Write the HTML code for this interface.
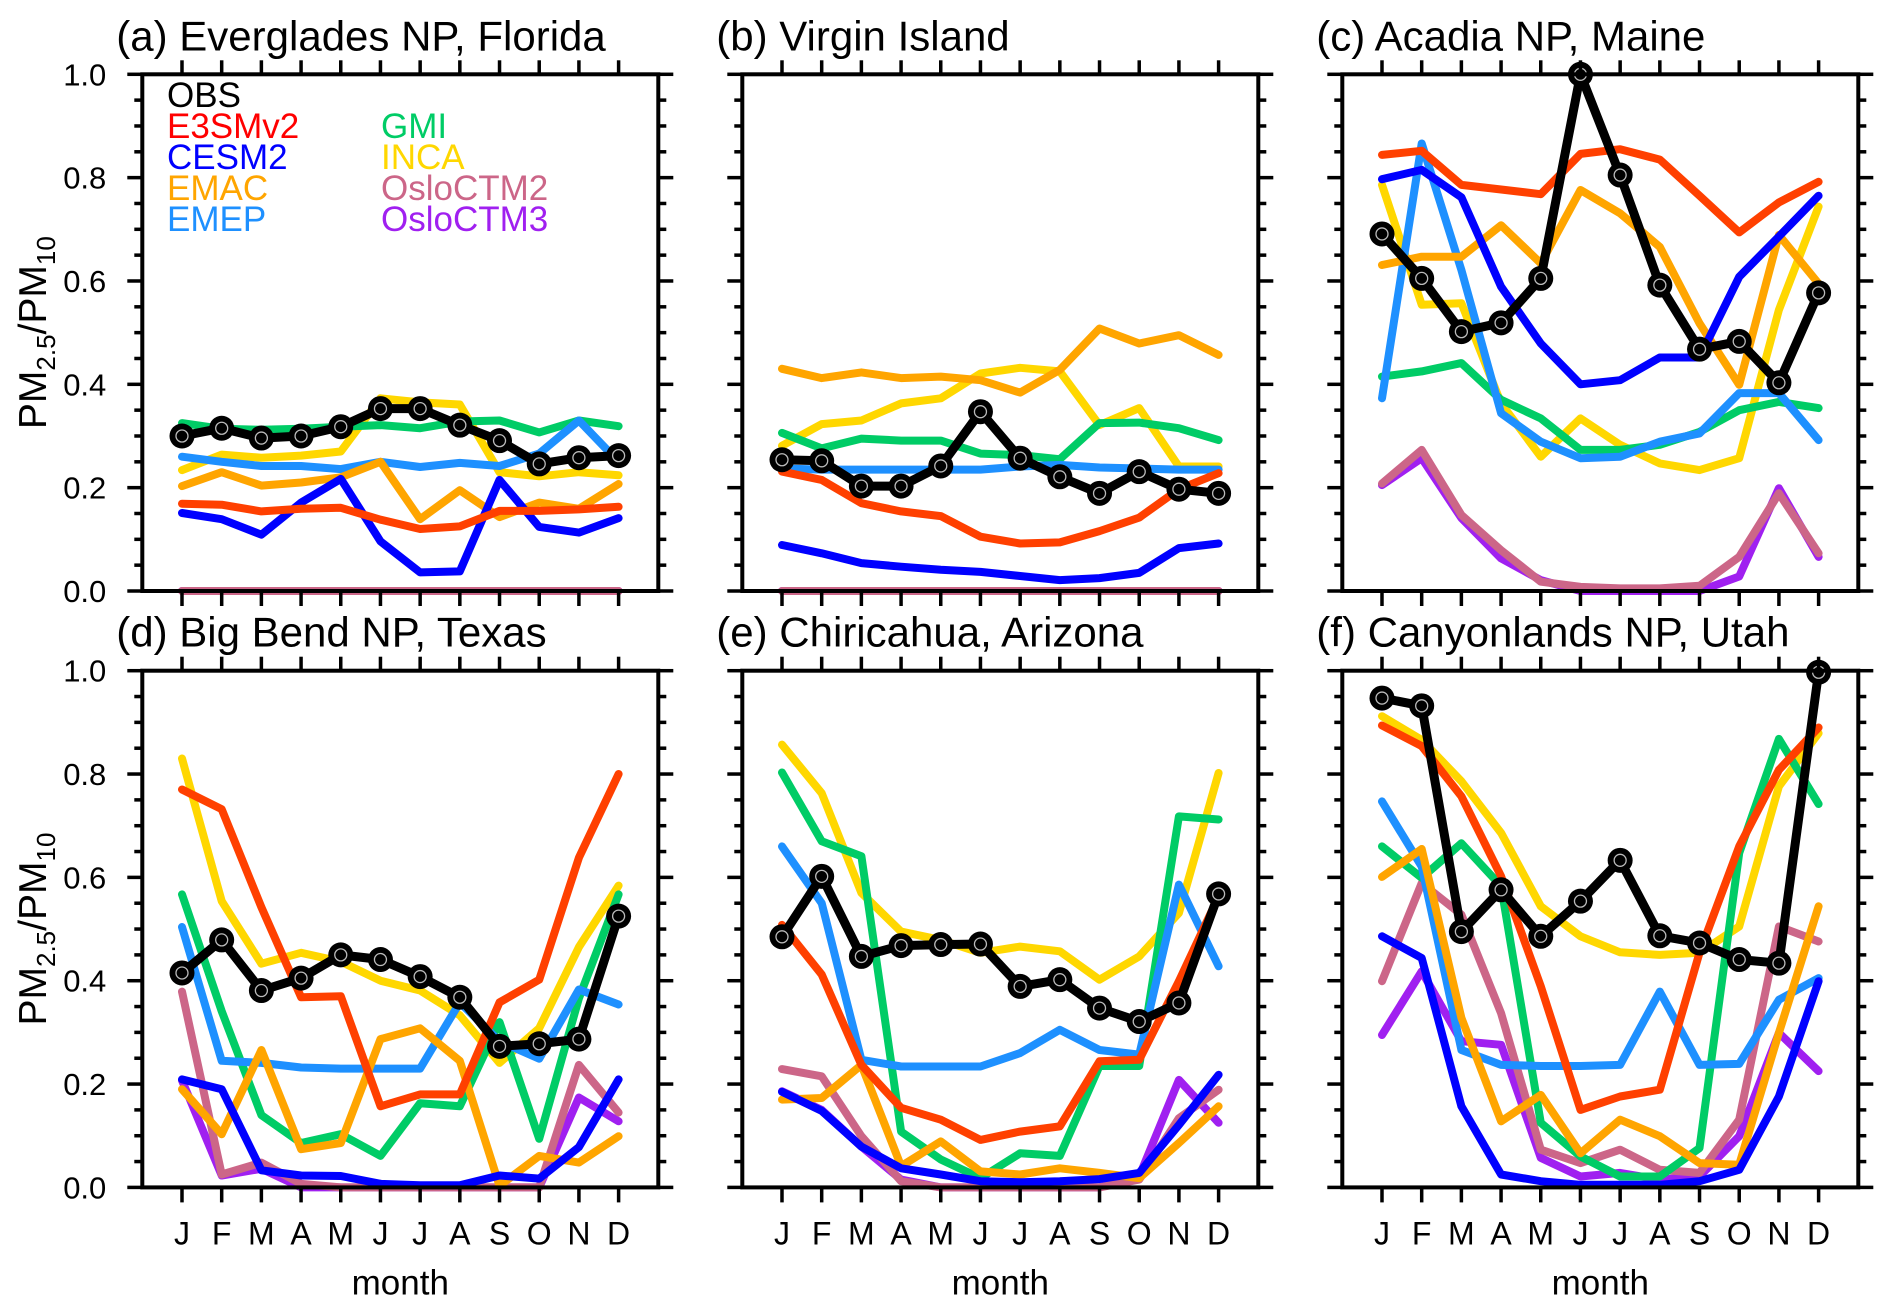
<!DOCTYPE html>
<html><head><meta charset="utf-8"><style>
html,body{margin:0;padding:0;background:#fff}
svg{display:block}
text{font-family:"Liberation Sans",sans-serif}
</style></head>
<body>
<svg id="fig" width="1892" height="1316" viewBox="0 0 1892 1316" xmlns="http://www.w3.org/2000/svg"></svg>
<script>
const months = ["J","F","M","A","M","J","J","A","S","O","N","D"];
const yTicks = [0.0,0.2,0.4,0.6,0.8,1.0];
const yTickLabels = ["0.0","0.2","0.4","0.6","0.8","1.0"];
const panelTitles = ["(a) Everglades NP, Florida","(b) Virgin Island","(c) Acadia NP, Maine","(d) Big Bend NP, Texas","(e) Chiricahua, Arizona","(f) Canyonlands NP, Utah"];
const models = ["OsloCTM3","OsloCTM2","INCA","GMI","EMEP","EMAC","CESM2","E3SMv2","OBS"];
const lineColors = {OBS:"#000000",E3SMv2:"#FF4000",CESM2:"#0000FF",EMAC:"#FFA500",EMEP:"#1E90FF",GMI:"#00CC66",INCA:"#FFD700",OsloCTM2:"#CC6688",OsloCTM3:"#A020F0"};

const aOBS=[.30,.315,.296,.30,.318,.353,.353,.321,.291,.246,.258,.262];
const aE3SM=[.169,.167,.154,.159,.161,.138,.12,.125,.155,.155,.158,.163];
const aCESM=[.151,.139,.109,.171,.217,.096,.036,.038,.215,.124,.113,.141];
const aEMAC=[.203,.23,.204,.21,.22,.25,.139,.195,.143,.171,.159,.207];
const aEMEP=[.26,.25,.242,.242,.236,.25,.24,.248,.242,.266,.33,.25];
const aGMI=[.325,.314,.312,.314,.318,.321,.315,.328,.33,.307,.33,.319];
const aINCA=[.234,.264,.258,.262,.27,.373,.365,.361,.23,.222,.23,.224];
const aOslo2=[0,0,0,0,0,0,0,0,0,0,0,0];
const aOslo3=[0,0,0,0,0,0,0,0,0,0,0,0];
const bOBS=[.254,.252,.203,.203,.242,.347,.257,.221,.189,.231,.197,.189];
const bE3SM=[.231,.215,.17,.154,.145,.105,.092,.094,.116,.142,.197,.228];
const bCESM=[.089,.073,.054,.047,.041,.037,.029,.021,.025,.035,.083,.092];
const bEMAC=[.43,.412,.423,.412,.415,.408,.384,.428,.508,.479,.495,.457];
const bEMEP=[.237,.235,.235,.235,.235,.235,.241,.244,.239,.237,.235,.235];
const bGMI=[.306,.276,.295,.291,.291,.266,.263,.255,.325,.326,.315,.292];
const bINCA=[.281,.323,.33,.363,.373,.421,.432,.425,.321,.354,.241,.241];
const bOslo2=[0,0,0,0,0,0,0,0,0,0,0,0];
const bOslo3=[0,0,0,0,0,0,0,0,0,0,0,0];
const cOBS=[.691,.605,.502,.519,.605,1.0,.805,.592,.468,.483,.403,.577];
const cE3SM=[.844,.852,.786,.777,.768,.846,.855,.835,.765,.694,.752,.792];
const cCESM=[.797,.815,.762,.589,.479,.40,.408,.452,.452,.608,.686,.765];
const cEMAC=[.631,.647,.647,.708,.634,.776,.731,.666,.518,.399,.689,.595];
const cEMEP=[.373,.866,.621,.344,.289,.257,.26,.289,.305,.383,.383,.292];
const cGMI=[.415,.425,.441,.37,.334,.273,.273,.283,.308,.35,.366,.354];
const cINCA=[.786,.554,.557,.363,.26,.334,.283,.247,.234,.257,.544,.744];
const cOslo2=[.208,.273,.147,.079,.018,.008,.005,.005,.01,.066,.189,.073];
const cOslo3=[.205,.257,.141,.063,.021,0,0,0,0,.028,.199,.066];
const dOBS=[.415,.479,.381,.405,.45,.441,.408,.368,.273,.278,.287,.525];
const dE3SM=[.77,.732,.542,.368,.37,.157,.18,.18,.358,.402,.638,.80];
const dCESM=[.209,.19,.033,.023,.022,.007,.004,.004,.023,.017,.078,.209];
const dEMAC=[.19,.103,.266,.074,.086,.287,.308,.245,.003,.061,.048,.099];
const dEMEP=[.504,.245,.241,.232,.23,.23,.23,.358,.283,.249,.383,.354];
const dGMI=[.567,.341,.14,.086,.103,.061,.163,.157,.32,.094,.366,.567];
const dINCA=[.83,.554,.433,.454,.437,.40,.381,.333,.241,.308,.465,.584];
const dOslo2=[.379,.025,.048,.007,0,0,0,0,0,0,.237,.145];
const dOslo3=[.207,.023,.036,0,0,0,0,0,0,0,.174,.128];
const eOBS=[.485,.602,.447,.468,.47,.471,.389,.402,.347,.321,.357,.568];
const eE3SM=[.508,.412,.237,.154,.131,.092,.108,.118,.244,.247,.399,.563];
const eCESM=[.185,.148,.079,.037,.025,.012,.01,.012,.016,.028,.121,.218];
const eEMAC=[.17,.173,.237,.041,.089,.031,.025,.037,.028,.018,.086,.157];
const eEMEP=[.66,.55,.247,.234,.234,.234,.26,.305,.266,.257,.586,.428];
const eGMI=[.803,.67,.641,.108,.054,.018,.066,.061,.235,.235,.718,.712];
const eINCA=[.857,.763,.57,.495,.479,.454,.466,.457,.402,.447,.531,.802];
const eOslo2=[.229,.215,.099,.012,0,0,0,0,0,.015,.134,.189];
const eOslo3=[.186,.15,.079,.015,0,0,0,0,0,.021,.208,.125];
const fOBS=[.947,.932,.495,.576,.486,.554,.633,.487,.473,.441,.434,.997];
const fE3SM=[.894,.854,.757,.602,.389,.15,.176,.189,.454,.66,.808,.89];
const fCESM=[.486,.444,.157,.025,.012,.005,.005,.005,.012,.034,.176,.399];
const fEMAC=[.601,.655,.328,.128,.179,.066,.131,.099,.047,.044,.299,.544];
const fEMEP=[.747,.621,.266,.237,.235,.235,.237,.379,.237,.239,.363,.405];
const fGMI=[.66,.599,.666,.583,.125,.06,.021,.021,.076,.647,.868,.742];
const fINCA=[.912,.866,.786,.686,.544,.486,.455,.45,.454,.505,.776,.879];
const fOslo2=[.399,.589,.528,.337,.073,.047,.073,.034,.028,.131,.505,.476];
const fOslo3=[.295,.418,.283,.276,.057,.021,.028,.015,.021,.099,.299,.225];

const panelData=[
 {OBS:aOBS,E3SMv2:aE3SM,CESM2:aCESM,EMAC:aEMAC,EMEP:aEMEP,GMI:aGMI,INCA:aINCA,OsloCTM2:aOslo2,OsloCTM3:aOslo3},
 {OBS:bOBS,E3SMv2:bE3SM,CESM2:bCESM,EMAC:bEMAC,EMEP:bEMEP,GMI:bGMI,INCA:bINCA,OsloCTM2:bOslo2,OsloCTM3:bOslo3},
 {OBS:cOBS,E3SMv2:cE3SM,CESM2:cCESM,EMAC:cEMAC,EMEP:cEMEP,GMI:cGMI,INCA:cINCA,OsloCTM2:cOslo2,OsloCTM3:cOslo3},
 {OBS:dOBS,E3SMv2:dE3SM,CESM2:dCESM,EMAC:dEMAC,EMEP:dEMEP,GMI:dGMI,INCA:dINCA,OsloCTM2:dOslo2,OsloCTM3:dOslo3},
 {OBS:eOBS,E3SMv2:eE3SM,CESM2:eCESM,EMAC:eEMAC,EMEP:eEMEP,GMI:eGMI,INCA:eINCA,OsloCTM2:eOslo2,OsloCTM3:eOslo3},
 {OBS:fOBS,E3SMv2:fE3SM,CESM2:fCESM,EMAC:fEMAC,EMEP:fEMEP,GMI:fGMI,INCA:fINCA,OsloCTM2:fOslo2,OsloCTM3:fOslo3}
];

const NS="http://www.w3.org/2000/svg";
const svg=document.getElementById('fig');
function mk(tag,attrs,parent){const e=document.createElementNS(NS,tag);for(const k in attrs)e.setAttribute(k,attrs[k]);(parent||svg).appendChild(e);return e;}

const PW=516, PH=516.7;
for(let p=0;p<6;p++){
  const col=p%3,row=Math.floor(p/3);
  const L=142.3+600*col, T=74.3+596.4*row, R=L+PW, B=T+PH;
  const xS=i=>L+(i+1)*PW/13;
  const yS=v=>B-v*PH;
  const g=mk('g',{});
  
  
  const title=mk('text',{x:L-26,y:T-24,'font-size':42,fill:'#000'},g);
  title.textContent=panelTitles[p];
  
  
  const d=panelData[p];
  for(const m of models){
    const vals=d[m];
    const pts=vals.map((v,i)=>xS(i).toFixed(1)+','+yS(v).toFixed(1)).join(' ');
    const pl=mk('polyline',{points:pts,fill:'none',stroke:lineColors[m],'stroke-width':m==='OBS'?9:8,'stroke-linejoin':'round','stroke-linecap':'round'},g);
    
    
    if(m==='OBS'){
      vals.forEach((v,i)=>{
        const c=mk('circle',{cx:xS(i),cy:yS(v),r:12.5,fill:'#000'},g);
        
        
        mk('circle',{cx:xS(i),cy:yS(v),r:6,fill:'none',stroke:'#bbb','stroke-width':1.3},g);
      });
    }
  }
  const fr=mk('rect',{x:L,y:T,width:PW,height:PH,fill:'none',stroke:'#000','stroke-width':4},g);
  
  
  for(let k=0;k<=20;k++){
    const v=k*0.05, y=yS(v), len=(k%4===0)?15:8;
    mk('line',{x1:L-len,y1:y,x2:L,y2:y,stroke:'#000','stroke-width':3.5},g);
    mk('line',{x1:R,y1:y,x2:R+len,y2:y,stroke:'#000','stroke-width':3.5},g);
  }
  months.forEach((mo,i)=>{
    mk('line',{x1:xS(i),y1:T-14,x2:xS(i),y2:T,stroke:'#000','stroke-width':3.5},g);
    mk('line',{x1:xS(i),y1:B,x2:xS(i),y2:B+15,stroke:'#000','stroke-width':3.5},g);
    if(row===1){
      const t=mk('text',{x:xS(i),y:B+57,'font-size':32,'text-anchor':'middle',fill:'#000'},g);
      t.textContent=mo;
      
      
    }
  });
  if(row===1){
    const t=mk('text',{x:L+PW/2,y:B+107,'font-size':35,'text-anchor':'middle',fill:'#000'},g);
    t.textContent='month';
    
    
  }
  if(col===0){
    yTicks.forEach((v,k)=>{
      const t=mk('text',{x:L-36,y:yS(v)+11,'font-size':31,'text-anchor':'end',fill:'#000'},g);
      t.textContent=yTickLabels[k];
      
      
    });
    const cy=T+PH/2;
    const yl=mk('text',{x:0,y:0,'font-size':39,'text-anchor':'middle',fill:'#000',transform:`translate(46,${cy}) rotate(-90)`},g);
    
    
    yl.innerHTML='PM<tspan font-size="26" dy="9">2.5</tspan><tspan dy="-9">/PM</tspan><tspan font-size="26" dy="9">10</tspan>';
  }
}
const legendItems=[["OBS","#000",167,107],["E3SMv2","#FF0000",167,138],["CESM2","#0000FF",167,169],["EMAC","#FFA500",167,200],["EMEP","#1E90FF",167,231],
 ["GMI","#00CC66",381,138],["INCA","#FFD700",381,169],["OsloCTM2","#CC6688",381,200],["OsloCTM3","#A020F0",381,231]];
legendItems.forEach(it=>{
  const t=mk('text',{x:it[2],y:it[3],'font-size':35,fill:it[1]});
  t.textContent=it[0];
  
  
});
</script>
</body></html>
